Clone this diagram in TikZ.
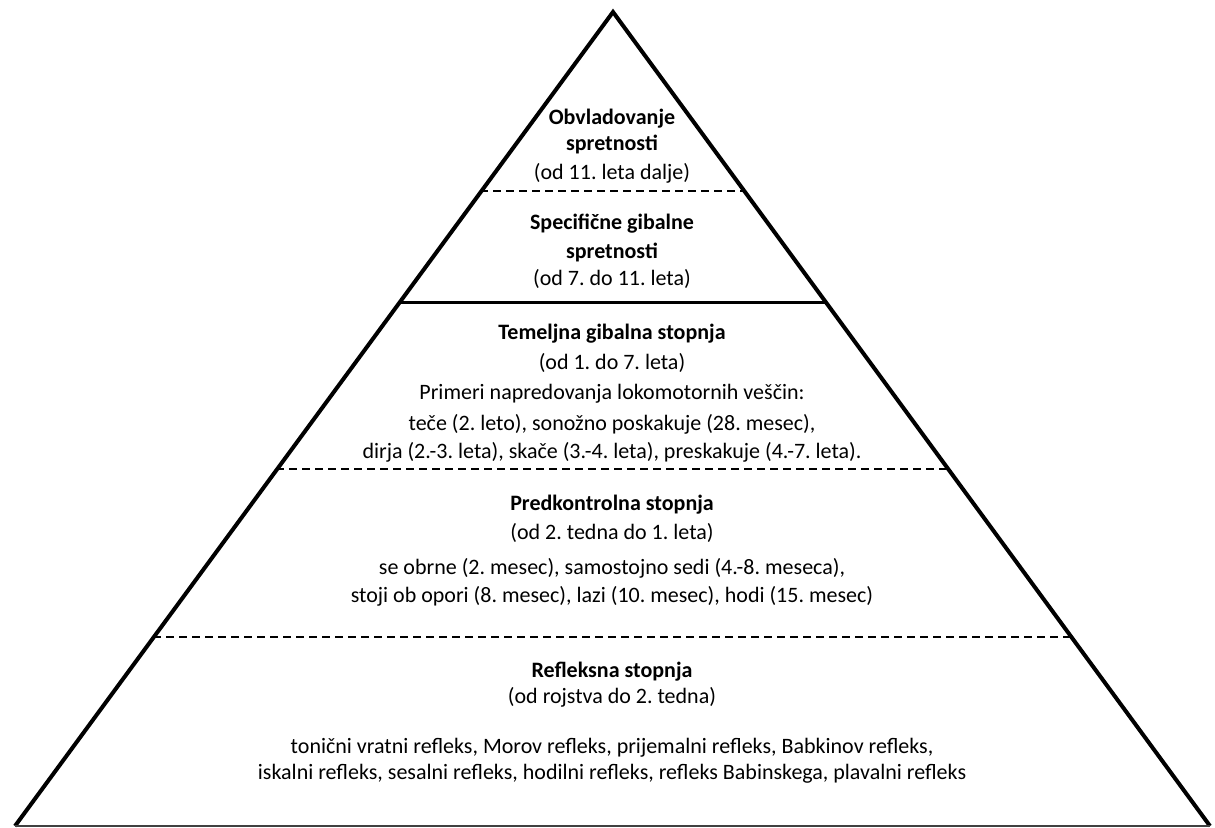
\documentclass[tikz,border=0pt]{standalone}
\usepackage{fontspec}
\setmainfont{Carlito}
\frenchspacing
\begin{document}
\begin{tikzpicture}[x=1pt,y=-1pt,
  side/.style={line width=4pt,line join=miter,line cap=butt},
  solidsep/.style={line width=3pt},
  dashsep/.style={line width=1.3pt,dash pattern=on 8pt off 5pt},
  base/.style={line width=1.5pt,draw=black!75},
  ttl/.style={font=\fontsize{22}{26}\selectfont\bfseries,anchor=base,inner sep=0pt},
  txt/.style={font=\fontsize{22}{26}\selectfont,anchor=base,inner sep=0pt}]
\useasboundingbox (0,0) rectangle (1215,827);
% pyramid
\coordinate (apex) at (613,12);
\coordinate (bl) at (15,826);
\coordinate (br) at (1210,826);
\draw[side] (bl) -- (apex) -- (br);
\draw[base] (bl) -- (br);
% separators
\coordinate (s1l) at (480,191);  \coordinate (s1r) at (746,191);
\coordinate (s2l) at (398,302);  \coordinate (s2r) at (827,302);
\coordinate (s3l) at (276,469);  \coordinate (s3r) at (949,469);
\coordinate (s4l) at (153,637);  \coordinate (s4r) at (1072,637);
\draw[dashsep] (s1l) -- (s1r);
\draw[solidsep] (s2l) -- (s2r);
\draw[dashsep] (s3l) -- (s3r);
\draw[dashsep] (s4l) -- (s4r);
% level 5
\node[ttl] (a1) at (612,124) {Obvladovanje};
\node[ttl] (a2) at (612,150) {spretnosti};
\node[txt] (a3) at (612,179) {(od 11. leta dalje)};
% level 4
\node[ttl] (b1) at (612,229) {Specifične gibalne};
\node[ttl] (b2) at (612,258) {spretnosti};
\node[txt] (b3) at (612,285) {(od 7. do 11. leta)};
% level 3
\node[ttl] (c1) at (612,339) {Temeljna gibalna stopnja};
\node[txt] (c2) at (612,369) {(od 1. do 7. leta)};
\node[txt] (c3) at (612,399) {Primeri napredovanja lokomotornih veščin:};
\node[txt] (c4) at (612,430) {teče (2. leto), sonožno poskakuje (28. mesec),};
\node[txt] (c5) at (612,458) {dirja (2.-3. leta), skače (3.-4. leta), preskakuje (4.-7. leta).};
% level 2
\node[ttl] (d1) at (612,510) {Predkontrolna stopnja};
\node[txt] (d2) at (612,539) {(od 2. tedna do 1. leta)};
\node[txt] (d3) at (612,574) {se obrne (2. mesec), samostojno sedi (4.-8. meseca),};
\node[txt] (d4) at (612,602) {stoji ob opori (8. mesec), lazi (10. mesec), hodi (15. mesec)};
% level 1
\node[ttl] (e1) at (612,677) {Refleksna stopnja};
\node[txt] (e2) at (612,703) {(od rojstva do 2. tedna)};
\node[txt] (e3) at (612,753) {tonični vratni refleks, Morov refleks, prijemalni refleks, Babkinov refleks,};
\node[txt] (e4) at (612,779) {iskalni refleks, sesalni refleks, hodilni refleks, refleks Babinskega, plavalni refleks};
\end{tikzpicture}
\end{document}
